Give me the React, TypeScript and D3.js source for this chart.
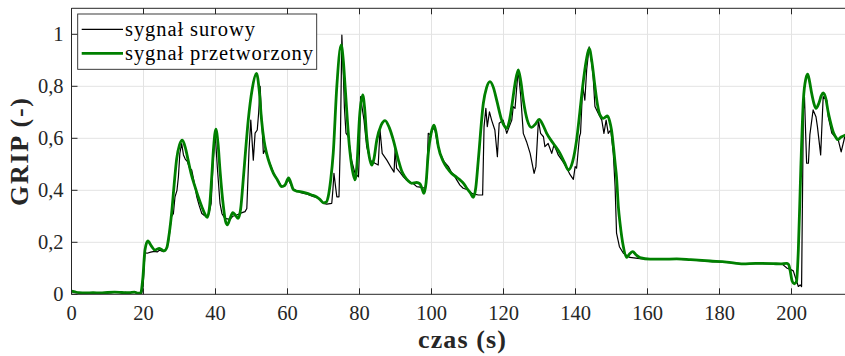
import React from "react";
import * as d3 from "d3";

// processed signal (green)
const procT = [0,1,2,4,6,8,10,12,14,16,17.5,18.5,19.2,19.8,20.4,21.2,22.2,23.2,24.4,25.7,26.5,26.9,27.8,28.5,29.2,30,30.8,31.6,32.4,33.3,34.3,35.2,36.2,37,37.7,38.3,38.9,39.5,40.1,40.7,41.25,42.2,42.8,43.3,44,44.8,45.5,46.3,47,47.7,48.4,49.1,50.2,51.4,52.1,52.8,53.5,54.2,55.1,56.1,57.2,58.4,59.3,60.3,60.9,61.6,62.5,63.5,65,66.7,68,69,70,70.8,71.3,72,72.7,73.7,74.9,75.5,76,77.2,78,78.75,79.3,80,80.9,81.4,82,82.7,83.4,84,84.8,86,87.1,88.3,89.4,90.8,91.7,92.6,93.5,94.5,95.9,96.8,97.4,97.9,98.5,99.1,99.9,100.7,101.3,101.9,103.3,104.4,105.6,107,107.9,109,109.8,110.8,111.6,112.3,113,114.4,115.3,116.25,117.2,118.1,119.5,120.2,120.9,121.6,122.3,123.2,124.1,124.8,125.5,126.6,127.8,128.9,129.9,131,132,133.8,135.7,137,138,139.2,140.3,141.2,142,143,143.8,144.6,145.4,146.1,146.8,147.7,148.9,149.5,150,150.6,151,151.4,151.9,152.4,153.3,154.2,155,155.9,156.8,157.9,160.7,164,168.1,172,177.4,182,186.6,190,194.9,197,198.6,199.2,199.6,200.2,200.8,201.4,201.9,202.6,203.3,204,204.5,205,205.6,206.2,206.8,207.6,208.3,208.8,209.5,210.2,210.7,211.7,212.5,212.8,213.8,215];
const procV = [0.012,0.009,0.006,0.005,0.006,0.005,0.007,0.008,0.007,0.006,0.008,0.004,0.004,0.06,0.17,0.205,0.185,0.17,0.177,0.167,0.18,0.21,0.31,0.42,0.52,0.575,0.593,0.565,0.516,0.46,0.414,0.375,0.337,0.31,0.296,0.33,0.44,0.57,0.635,0.58,0.478,0.337,0.28,0.267,0.29,0.314,0.305,0.292,0.33,0.44,0.56,0.67,0.79,0.85,0.79,0.67,0.59,0.542,0.5,0.465,0.44,0.414,0.42,0.448,0.43,0.403,0.397,0.395,0.39,0.382,0.375,0.365,0.352,0.355,0.375,0.44,0.542,0.8,0.959,0.9,0.8,0.568,0.48,0.44,0.5,0.68,0.767,0.72,0.606,0.53,0.497,0.52,0.593,0.65,0.668,0.64,0.593,0.516,0.475,0.452,0.437,0.427,0.43,0.425,0.405,0.388,0.43,0.542,0.62,0.651,0.62,0.568,0.51,0.485,0.465,0.45,0.44,0.425,0.408,0.39,0.373,0.41,0.516,0.735,0.795,0.818,0.795,0.747,0.67,0.648,0.638,0.665,0.722,0.81,0.863,0.82,0.747,0.67,0.642,0.655,0.673,0.65,0.619,0.581,0.542,0.505,0.478,0.51,0.593,0.7,0.8,0.9,0.946,0.89,0.8,0.73,0.69,0.677,0.686,0.665,0.632,0.56,0.504,0.45,0.337,0.27,0.183,0.142,0.155,0.164,0.152,0.141,0.135,0.135,0.136,0.133,0.128,0.124,0.117,0.119,0.118,0.117,0.119,0.115,0.093,0.05,0.04,0.05,0.17,0.49,0.747,0.83,0.847,0.82,0.773,0.735,0.715,0.735,0.765,0.775,0.755,0.7,0.67,0.62,0.6,0.595,0.605,0.613];

// raw signal (black)
const rawT = [0,0.5,1.5,3,4,5,6,7,8,9,10,11,12,13,14,15,16,17,17.8,18.4,19.5,19.9,20.4,21,22,23,23.8,24.5,25.5,26.3,26.9,27.8,28.3,28.75,29.3,29.7,30.1,30.6,31.1,31.6,32.2,32.8,33.4,34.1,34.8,35.5,36.2,37,37.6,38.2,38.8,39.3,39.9,40.5,41.25,41.8,42.6,43.3,44,44.8,45.9,47,48.2,48.7,49.3,49.8,50.5,51,51.6,52,52.4,52.8,53.3,53.75,54.4,55.2,56.2,57.2,58.4,59.2,59.8,60.3,60.8,61.6,62.5,63.5,64.5,65.5,66.7,67.5,68.5,69.2,70,70.9,72.3,72.6,72.9,73.3,73.7,74.3,74.7,75.1,75.5,75.8,76.25,76.9,77.8,78.75,79.7,80,80.3,80.7,81.25,82,82.9,84.3,85.2,85.7,86.3,87.6,88.9,89.6,89.9,90.3,91.2,92.2,93,94,95,95.9,96.8,97.5,98.2,98.7,99.1,99.8,100.4,101,101.6,102.5,103.5,104.7,105.5,106.2,107,107.9,108.8,110.2,111,111.6,113,114.2,114.6,115.1,115.5,116.1,116.7,117.6,118.3,118.8,119.9,120.9,121.6,122.3,122.7,123.2,123.7,124.1,124.8,125.5,126.4,127.4,128.5,129,129.7,130.3,131.1,131.5,132.4,133.4,134,134.8,135.2,136.5,137.6,138.5,139.4,139.9,140.3,141.1,141.4,142,142.6,143.1,143.8,144.5,144.9,145.4,146.3,147.3,147.9,148.5,149.1,149.8,150.5,151,151.4,152.2,153.3,155.1,157.9,160.7,164,168,172,177,182,186.6,190,195,197.5,198.8,199.8,200.5,201.2,201.9,202.4,202.8,203.3,203.6,204.2,204.7,205.1,206,206.8,207.2,208.1,208.8,209.8,210.2,211.2,212.1,213,213.8,214.8];
const rawV = [0.012,0.008,0.006,0.004,0.006,0.003,0.005,0.004,0.006,0.005,0.007,0.006,0.008,0.007,0.006,0.008,0.005,0.007,0.009,0.003,0.003,0.03,0.16,0.158,0.162,0.165,0.163,0.17,0.164,0.175,0.196,0.3,0.31,0.375,0.4,0.452,0.542,0.58,0.536,0.52,0.51,0.485,0.478,0.43,0.375,0.34,0.311,0.302,0.3,0.31,0.35,0.5,0.62,0.49,0.35,0.31,0.292,0.29,0.288,0.3,0.305,0.312,0.318,0.33,0.55,0.67,0.516,0.62,0.632,0.7,0.8,0.68,0.542,0.555,0.53,0.5,0.465,0.44,0.415,0.415,0.43,0.44,0.425,0.405,0.398,0.392,0.388,0.385,0.378,0.375,0.37,0.362,0.35,0.347,0.35,0.4,0.465,0.42,0.375,0.375,0.6,0.997,0.85,0.72,0.62,0.606,0.516,0.465,0.452,0.55,0.76,0.72,0.67,0.568,0.516,0.504,0.497,0.632,0.542,0.516,0.485,0.47,0.561,0.485,0.47,0.452,0.44,0.433,0.425,0.414,0.412,0.41,0.408,0.45,0.619,0.613,0.64,0.63,0.58,0.54,0.51,0.491,0.47,0.46,0.44,0.42,0.408,0.401,0.39,0.386,0.382,0.382,0.645,0.715,0.645,0.702,0.67,0.632,0.529,0.658,0.67,0.619,0.645,0.67,0.722,0.715,0.8,0.863,0.76,0.619,0.587,0.542,0.465,0.491,0.67,0.619,0.606,0.568,0.58,0.542,0.574,0.55,0.536,0.51,0.485,0.46,0.442,0.491,0.485,0.606,0.62,0.8,0.747,0.863,0.952,0.888,0.837,0.722,0.696,0.67,0.619,0.67,0.619,0.632,0.542,0.414,0.235,0.183,0.158,0.142,0.137,0.134,0.134,0.135,0.132,0.127,0.123,0.117,0.118,0.117,0.115,0.1,0.095,0.09,0.06,0.03,0.036,0.03,0.71,0.76,0.504,0.504,0.613,0.709,0.683,0.645,0.536,0.76,0.747,0.683,0.62,0.606,0.593,0.548,0.606];

const xTicks = [0, 20, 40, 60, 80, 100, 120, 140, 160, 180, 200];
const yTicks = [0, 0.2, 0.4, 0.6, 0.8, 1];
const yTickLabels = ["0", "0,2", "0,4", "0,6", "0,8", "1"];
const legendLabels = ["sygnał surowy", "sygnał przetworzony"];

const W = 845, H = 356;
const L = 71.5, R = 845.5, T = 8.3, B = 294.3;
const FONT = "'Liberation Serif', 'Times New Roman', serif";
const AX = "#262626";
const GRID = "#e3e3e3";
const GREEN = "#008000";

export default function App() {
  const x = d3.scaleLinear().domain([0, 215]).range([L, R]);
  const y = d3.scaleLinear().domain([0, 1.1]).range([B, T]);

  const procLine = d3.line<number>()
    .x((_, i) => x(procT[i]))
    .y((d) => y(d))
    .curve(d3.curveMonotoneX);
  const rawLine = d3.line<number>()
    .x((_, i) => x(rawT[i]))
    .y((d) => y(d));

  const tick = 6;
  return (
    <svg width={W} height={H} style={{ position: "absolute", left: 0, top: 0, background: "#fff" }}>
      <defs>
        <clipPath id="plot">
          <rect x={L} y={T} width={R - L} height={B - T} />
        </clipPath>
      </defs>
      <rect x={0} y={0} width={W} height={H} fill="#fff" />
      {/* grid */}
      {xTicks.filter((t) => t > 0).map((t) => (
        <line key={"gx" + t} x1={x(t)} x2={x(t)} y1={T} y2={B} stroke={GRID} strokeWidth={1} />
      ))}
      {yTicks.filter((t) => t > 0).map((t) => (
        <line key={"gy" + t} x1={L} x2={R} y1={y(t)} y2={y(t)} stroke={GRID} strokeWidth={1} />
      ))}
      {/* lines */}
      <g clipPath="url(#plot)">
        <path d={rawLine(rawV) || ""} fill="none" stroke="#000" strokeWidth={1.2} strokeLinejoin="round" />
        <path d={procLine(procV) || ""} fill="none" stroke={GREEN} strokeWidth={2.8} strokeLinejoin="round" />
      </g>
      {/* axes box */}
      <line x1={L} x2={L} y1={T} y2={B} stroke={AX} strokeWidth={1} />
      <line x1={L} x2={R} y1={B} y2={B} stroke={AX} strokeWidth={1} />
      <line x1={L} x2={R} y1={T} y2={T} stroke={AX} strokeWidth={1} />
      {xTicks.map((t) => (
        <g key={"xt" + t}>
          <line x1={x(t)} x2={x(t)} y1={B} y2={B - tick} stroke={AX} />
          <line x1={x(t)} x2={x(t)} y1={T} y2={T + tick} stroke={AX} />
          <text x={x(t)} y={320} textAnchor="middle" fontFamily={FONT} fontSize={20.5} fill="#262626">{t}</text>
        </g>
      ))}
      {yTicks.map((t, i) => (
        <g key={"yt" + t}>
          <line x1={L} x2={L + tick} y1={y(t)} y2={y(t)} stroke={AX} />
          <text x={63.5} y={y(t) + 6.8} textAnchor="end" fontFamily={FONT} fontSize={20.5} fill="#262626">{yTickLabels[i]}</text>
        </g>
      ))}
      {/* axis labels */}
      <text x={462} y={348} textAnchor="middle" fontFamily={FONT} fontWeight="bold" fontSize={26} textLength={88} lengthAdjust="spacing" fill="#262626">czas (s)</text>
      <text transform="translate(28,152) rotate(-90)" textAnchor="middle" fontFamily={FONT} fontWeight="bold" fontSize={26} textLength={108} lengthAdjust="spacing" fill="#262626">GRIP (-)</text>
      {/* legend */}
      <rect x={77.7} y={14} width={239} height={55.3} fill="#fff" stroke={AX} strokeWidth={0.9} />
      <line x1={81.7} x2={123} y1={29.3} y2={29.3} stroke="#000" strokeWidth={1.2} />
      <line x1={81.7} x2={123} y1={53.3} y2={53.3} stroke={GREEN} strokeWidth={2.8} />
      <text x={125} y={35.5} fontFamily={FONT} fontSize={20.5} textLength={130} lengthAdjust="spacing" fill="#000">{legendLabels[0]}</text>
      <text x={125} y={59.8} fontFamily={FONT} fontSize={20.5} textLength={188} lengthAdjust="spacing" fill="#000">{legendLabels[1]}</text>
    </svg>
  );
}
